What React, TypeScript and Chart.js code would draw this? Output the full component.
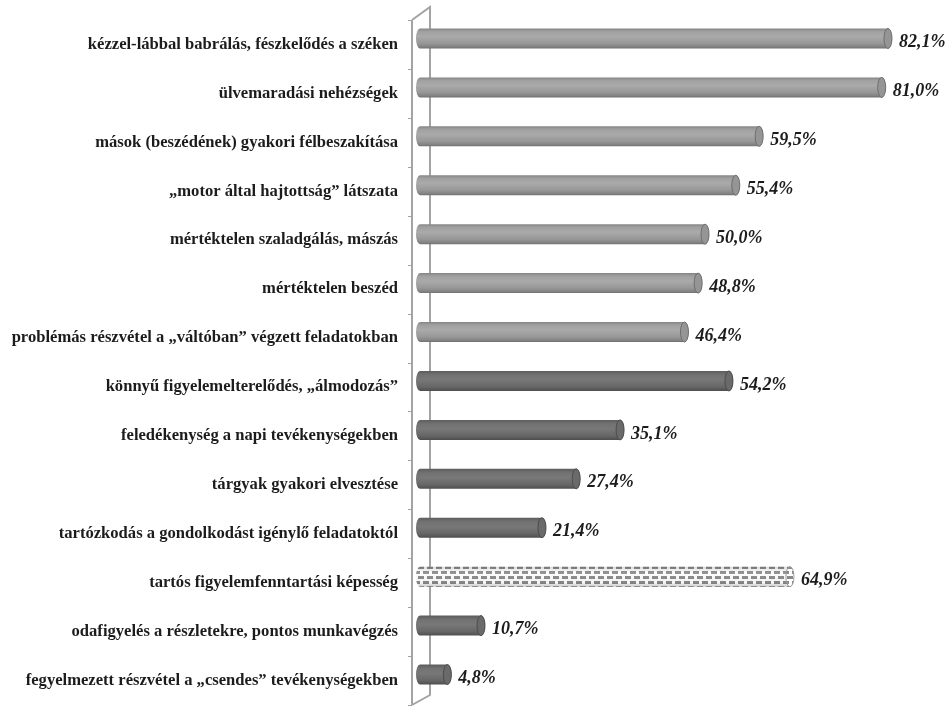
import React, { useEffect, useRef } from 'react';
import { Chart, registerables } from 'chart.js';

Chart.register(...registerables);

const categories = [
  'kézzel-lábbal babrálás, fészkelődés a széken',
  'ülvemaradási nehézségek',
  'mások (beszédének) gyakori félbeszakítása',
  '„motor által hajtottság” látszata',
  'mértéktelen szaladgálás, mászás',
  'mértéktelen beszéd',
  'problémás részvétel a „váltóban” végzett feladatokban',
  'könnyű figyelemelterelődés, „álmodozás”',
  'feledékenység a napi tevékenységekben',
  'tárgyak gyakori elvesztése',
  'tartózkodás a gondolkodást igénylő feladatoktól',
  'tartós figyelemfenntartási képesség',
  'odafigyelés a részletekre, pontos munkavégzés',
  'fegyelmezett részvétel a „csendes” tevékenységekben',
];

const values = [82.1, 81.0, 59.5, 55.4, 50.0, 48.8, 46.4, 54.2, 35.1, 27.4, 21.4, 64.9, 10.7, 4.8];

const groups = [
  'hyper', 'hyper', 'hyper', 'hyper', 'hyper', 'hyper', 'hyper',
  'inatt', 'inatt', 'inatt', 'inatt', 'reverse', 'inatt', 'inatt',
];

const xMin = 0;
const xMax = 90;

const formatValue = (v: number) => v.toFixed(1).replace('.', ',') + '%';

function makePattern(ctx: CanvasRenderingContext2D): CanvasPattern | string {
  const t = document.createElement('canvas');
  t.width = 9;
  t.height = 10;
  const c = t.getContext('2d');
  if (!c) return '#ccc';
  c.fillStyle = '#ffffff';
  c.fillRect(0, 0, 9, 10);
  c.fillStyle = '#8a8a8a';
  c.fillRect(0, 1, 6, 3);
  c.fillRect(4, 6, 6, 3);
  c.fillRect(-5, 6, 6, 3);
  const p = ctx.createPattern(t, 'repeat');
  return p || '#ccc';
}

const axis3dPlugin = {
  id: 'axis3d',
  beforeDatasetsDraw(chart: any) {
    const { ctx, chartArea, scales } = chart;
    const y = scales.y;
    const fx = chartArea.left - 8;
    const bx = chartArea.left + 10;
    const dy = -13;
    const top = chartArea.top;
    const bottom = chartArea.bottom;
    ctx.save();
    ctx.strokeStyle = '#a3a3a3';
    ctx.lineWidth = 2;
    ctx.beginPath();
    ctx.moveTo(fx, top);
    ctx.lineTo(fx, bottom);
    ctx.moveTo(fx, top);
    ctx.lineTo(bx, top + dy);
    ctx.lineTo(bx, bottom + dy + 3);
    ctx.lineTo(fx, bottom);
    ctx.stroke();
    ctx.lineWidth = 1;
    const n = categories.length;
    for (let i = 0; i <= n; i++) {
      let yy: number;
      if (i === 0) yy = top;
      else if (i === n) yy = bottom;
      else yy = (y.getPixelForValue(i - 1) + y.getPixelForValue(i)) / 2;
      ctx.beginPath();
      ctx.moveTo(fx - 4, Math.round(yy) + 0.5);
      ctx.lineTo(fx, Math.round(yy) + 0.5);
      ctx.stroke();
    }
    ctx.restore();
  },
};

const cylinderPlugin = {
  id: 'cylinders',
  afterDatasetsDraw(chart: any) {
    const { ctx } = chart;
    const meta = chart.getDatasetMeta(0);
    const pattern = makePattern(ctx);
    ctx.save();
    meta.data.forEach((el: any, i: number) => {
      const { x, y, base, height } = el.getProps(['x', 'y', 'base', 'height'], true);
      const h = height;
      const cy = y - 6;
      const top = cy - h / 2;
      const rx = 4;
      const ry = h / 2;
      const g = groups[i];

      const body = () => {
        ctx.beginPath();
        ctx.moveTo(base, top);
        ctx.lineTo(x, top);
        ctx.ellipse(x, cy, rx, ry, 0, -Math.PI / 2, Math.PI / 2);
        ctx.lineTo(base, top + h);
        ctx.ellipse(base, cy, rx, ry, 0, Math.PI / 2, (3 * Math.PI) / 2);
        ctx.closePath();
      };

      const grad = ctx.createLinearGradient(0, top, 0, top + h);
      let capFill = '#9a9a9a';
      let capStroke = '#707070';
      if (g === 'hyper') {
        grad.addColorStop(0, '#858585');
        grad.addColorStop(0.15, '#a0a0a0');
        grad.addColorStop(0.4, '#aaaaaa');
        grad.addColorStop(0.75, '#979797');
        grad.addColorStop(0.92, '#828282');
        grad.addColorStop(1, '#6f6f6f');
        capFill = '#959595';
        capStroke = '#6e6e6e';
      } else if (g === 'inatt') {
        grad.addColorStop(0, '#5c5c5c');
        grad.addColorStop(0.2, '#727272');
        grad.addColorStop(0.45, '#787878');
        grad.addColorStop(0.8, '#666666');
        grad.addColorStop(1, '#4e4e4e');
        capFill = '#6a6a6a';
        capStroke = '#4c4c4c';
      }

      if (g === 'reverse') {
        body();
        ctx.fillStyle = pattern;
        ctx.fill();
        const shade = ctx.createLinearGradient(0, top, 0, top + h);
        shade.addColorStop(0, 'rgba(0,0,0,0.15)');
        shade.addColorStop(0.35, 'rgba(255,255,255,0.1)');
        shade.addColorStop(0.8, 'rgba(0,0,0,0.04)');
        shade.addColorStop(1, 'rgba(0,0,0,0.22)');
        ctx.fillStyle = shade;
        ctx.fill();
        ctx.beginPath();
        ctx.ellipse(x, cy, rx, ry, 0, 0, Math.PI * 2);
        ctx.fillStyle = pattern;
        ctx.fill();
        ctx.strokeStyle = '#9a9a9a';
        ctx.lineWidth = 1;
        ctx.stroke();
      } else {
        body();
        ctx.fillStyle = grad;
        ctx.fill();
        ctx.beginPath();
        ctx.ellipse(x, cy, rx, ry, 0, 0, Math.PI * 2);
        ctx.fillStyle = capFill;
        ctx.fill();
        ctx.strokeStyle = capStroke;
        ctx.lineWidth = 1;
        ctx.stroke();
      }

      ctx.fillStyle = '#1c1c1c';
      ctx.font = 'italic bold 18px "Liberation Serif", "Times New Roman", serif';
      ctx.textAlign = 'left';
      ctx.textBaseline = 'middle';
      ctx.fillText(formatValue(values[i]), x + rx + 7, y - 2);
    });
    ctx.restore();
  },
};

export default function App() {
  const canvasRef = useRef<HTMLCanvasElement | null>(null);

  useEffect(() => {
    if (!canvasRef.current) return;
    const chart = new Chart(canvasRef.current, {
      type: 'bar',
      data: {
        labels: categories,
        datasets: [
          {
            data: values,
            backgroundColor: 'rgba(0,0,0,0)',
            borderWidth: 0,
            barThickness: 20,
          },
        ],
      },
      options: {
        indexAxis: 'y',
        animation: false,
        responsive: true,
        maintainAspectRatio: false,
        layout: { padding: { top: 20, bottom: 4, left: 0, right: 14 } },
        plugins: {
          legend: { display: false },
          tooltip: { enabled: false },
        },
        scales: {
          x: {
            display: false,
            min: xMin,
            max: xMax,
          },
          y: {
            grid: { display: false, drawTicks: false },
            border: { display: false },
            afterFit: (scale: any) => {
              scale.width = 420;
              scale.paddingTop = 0;
              scale.paddingBottom = 0;
            },
            ticks: {
              padding: 22,
              color: '#1c1c1c',
              font: { family: '"Liberation Serif", "Times New Roman", serif', size: 16.6, weight: 'bold' },
            },
          },
        },
      },
      plugins: [axis3dPlugin, cylinderPlugin],
    });
    return () => chart.destroy();
  }, []);

  return (
    <div style={{ position: 'absolute', left: 0, top: 0, width: 947, height: 709, background: '#fff' }}>
      <canvas ref={canvasRef} />
    </div>
  );
}
